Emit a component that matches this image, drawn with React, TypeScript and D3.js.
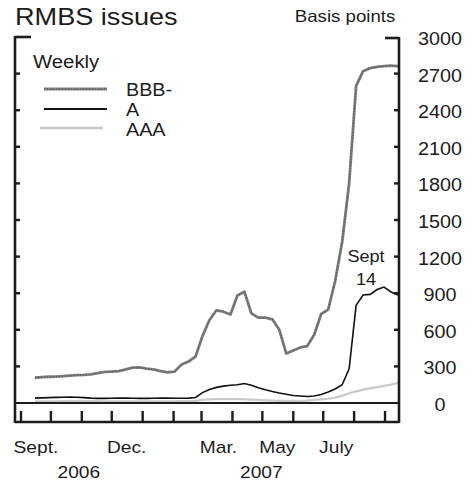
import React from "react";
import * as d3 from "d3";

const dates = [
  "2006-09-15","2006-09-22","2006-09-29","2006-10-06","2006-10-13","2006-10-20","2006-10-27",
  "2006-11-03","2006-11-10","2006-11-17","2006-11-24","2006-12-01","2006-12-08","2006-12-15",
  "2006-12-22","2006-12-29","2007-01-05","2007-01-12","2007-01-19","2007-01-26","2007-02-02",
  "2007-02-09","2007-02-16","2007-02-23","2007-03-02","2007-03-09","2007-03-16","2007-03-23",
  "2007-03-30","2007-04-06","2007-04-13","2007-04-20","2007-04-27","2007-05-04","2007-05-11",
  "2007-05-18","2007-05-25","2007-06-01","2007-06-08","2007-06-15","2007-06-22","2007-06-29",
  "2007-07-06","2007-07-13","2007-07-20","2007-07-27","2007-08-03","2007-08-10","2007-08-17",
  "2007-08-24","2007-08-31","2007-09-07","2007-09-14",
];

const bbbMinus = [
  207,212,215,216,220,225,228,230,235,245,255,258,262,275,290,292,282,276,262,252,258,315,340,
  380,550,680,760,748,725,882,912,735,700,700,686,600,405,431,455,467,560,730,765,1000,1320,1800,
  2600,2720,2745,2755,2762,2765,2762,
];

const aRated = [
  40,42,44,46,47,48,47,44,40,38,38,39,40,40,39,38,38,39,40,40,39,39,40,
  45,85,110,128,138,145,150,160,145,125,108,95,82,72,62,57,53,58,70,90,115,150,280,800,885,890,
  930,950,910,885,
];

const aaa = [
  14,14,14,14,15,15,15,15,15,15,14,14,14,14,14,14,14,14,14,14,14,15,15,
  18,25,30,32,32,32,32,30,28,25,22,20,18,18,18,18,20,25,30,35,45,60,80,95,110,120,130,140,150,165,
];

const yTicks = [0, 300, 600, 900, 1200, 1500, 1800, 2100, 2400, 2700, 3000];
const monthBoundaries = [
  "2006-09-01","2006-10-01","2006-11-01","2006-12-01","2007-01-01","2007-02-01","2007-03-01",
  "2007-04-01","2007-05-01","2007-06-01","2007-07-01","2007-08-01","2007-09-01",
];
const monthLabels = ["Sept.", "Dec.", "Mar.", "May", "July"];
const monthLabelDates = ["2006-09-16", "2006-12-16", "2007-03-18", "2007-05-16", "2007-07-14"];
const yearLabels = ["2006", "2007"];
const yearLabelDates = ["2006-10-29", "2007-04-30"];
const seriesNames = ["BBB-", "A", "AAA"];

const parse = d3.timeParse("%Y-%m-%d");
const SX = 1.13;
const FONT = "'Liberation Sans', Arial, Helvetica, sans-serif";
const INK = "#1c1c1c";

function T({ x, y, size, anchor = "start", children, fill = INK }: any) {
  return (
    <text
      transform={`translate(${x},${y}) scale(${SX},1)`}
      fontSize={size}
      fontFamily={FONT}
      textAnchor={anchor}
      fill={fill}
    >
      {children}
    </text>
  );
}

export default function App() {
  const W = 474, H = 483;
  const left = 15, right = 399, top = 37, bottom = 422;
  const x = d3.scaleTime().domain([parse("2006-08-26")!, parse("2007-09-15")!]).range([left, right]);
  const y = d3.scaleLinear().domain([0, 3000]).range([403, top]);
  const ds = dates.map((d) => parse(d)!);
  const line = d3
    .line<number>()
    .x((_, i) => x(ds[i]))
    .y((v) => y(v))
    .curve(d3.curveLinear);

  const legendY = [89, 109, 128];

  return (
    <svg
      width={W}
      height={H}
      style={{ position: "absolute", left: 0, top: 0, background: "#fff", display: "block" }}
    >
      <rect x={0} y={0} width={W} height={H} fill="#fff" />
      {/* Title */}
      <T x={15} y={25} size={24}>RMBS issues</T>
      <T x={345} y={22} size={16.5} anchor="middle">Basis points</T>

      {/* series */}
      <path d={line(aaa) || ""} fill="none" stroke="#c9c9c9" strokeWidth={2.2} />
      <path d={line(aRated) || ""} fill="none" stroke="#111" strokeWidth={1.6} />
      <path d={line(bbbMinus) || ""} fill="none" stroke="#7c7c7c" strokeWidth={2.8} strokeLinejoin="round" />
      <path d={line(bbbMinus) || ""} fill="none" stroke="#444" strokeWidth={0.8} strokeDasharray="1,2" />

      {/* frame */}
      <line x1={left} x2={left} y1={top - 1} y2={bottom + 1} stroke={INK} strokeWidth={2.6} />
      <line x1={right} x2={right} y1={top} y2={bottom + 1} stroke={INK} strokeWidth={2.6} />
      <line x1={left} x2={right} y1={bottom} y2={bottom} stroke={INK} strokeWidth={2.6} />
      <line x1={left} x2={right} y1={y(0)} y2={y(0)} stroke={INK} strokeWidth={1.8} />
      <line x1={left} x2={left + 16} y1={y(3000)} y2={y(3000)} stroke={INK} strokeWidth={2.6} />
      <line x1={right - 14} x2={right} y1={y(3000) + 1} y2={y(3000) + 1} stroke={INK} strokeWidth={2.6} />

      {/* y ticks */}
      {yTicks.filter((t) => t > 0 && t < 3000).map((t) => (
        <g key={t}>
          <line x1={left} x2={left + 5} y1={y(t)} y2={y(t)} stroke={INK} strokeWidth={2.4} />
          <line x1={right - 5} x2={right} y1={y(t)} y2={y(t)} stroke={INK} strokeWidth={2.4} />
        </g>
      ))}
      {yTicks.map((t) => (
        <T key={"l" + t} x={440} y={y(t) + 8} size={17.5} anchor="middle">{t}</T>
      ))}

      {/* x ticks */}
      {monthBoundaries.map((d) => {
        const xx = x(parse(d)!);
        return <line key={d} x1={xx} x2={xx} y1={411} y2={bottom} stroke={INK} strokeWidth={2.4} />;
      })}
      {monthLabels.map((m, i) => (
        <T key={m} x={x(parse(monthLabelDates[i])!)} y={453} size={17} anchor="middle">{m}</T>
      ))}
      {yearLabels.map((m, i) => (
        <T key={m} x={x(parse(yearLabelDates[i])!)} y={478} size={17} anchor="middle">{m}</T>
      ))}

      {/* annotation */}
      <T x={366} y={262} size={16} anchor="middle">Sept</T>
      <T x={366} y={285} size={16} anchor="middle">14</T>

      {/* legend */}
      <T x={33} y={68} size={18}>Weekly</T>
      <line x1={44} x2={107} y1={legendY[0]} y2={legendY[0]} stroke="#7c7c7c" strokeWidth={2.8} />
      <line x1={44} x2={107} y1={legendY[0]} y2={legendY[0]} stroke="#444" strokeWidth={0.8} strokeDasharray="1,2" />
      <line x1={44} x2={107} y1={legendY[1]} y2={legendY[1]} stroke="#111" strokeWidth={1.8} />
      <line x1={40} x2={103} y1={legendY[2]} y2={legendY[2]} stroke="#c9c9c9" strokeWidth={2.4} />
      {seriesNames.map((s, i) => (
        <T key={s} x={126} y={[96, 116, 136][i]} size={17.5}>{s}</T>
      ))}
    </svg>
  );
}
